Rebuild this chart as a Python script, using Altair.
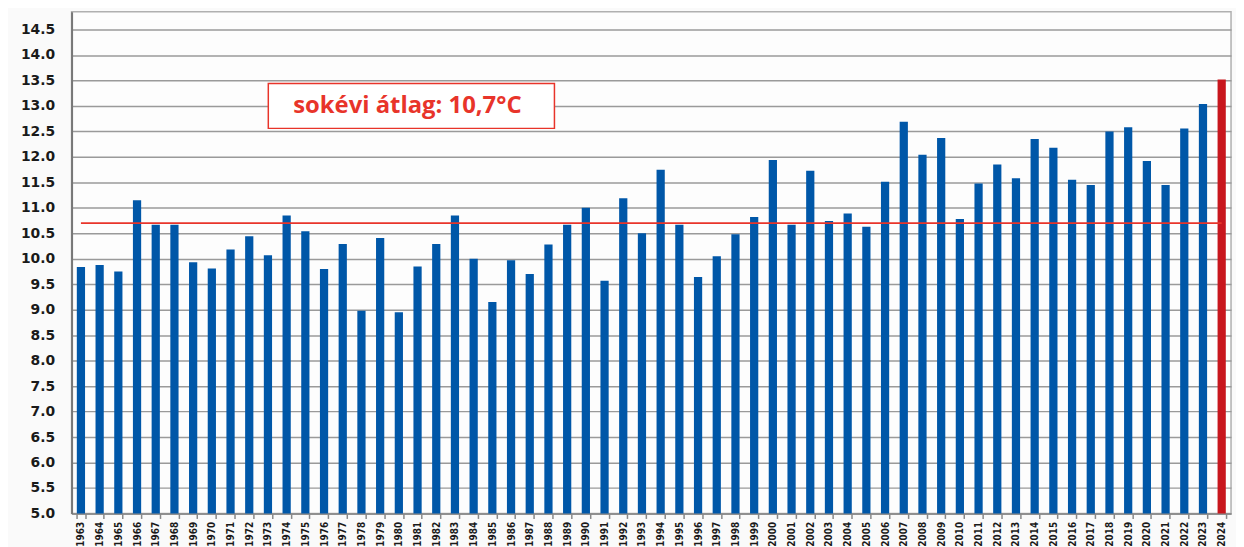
import altair as alt
import pandas as pd

years = list(range(1963, 2025))
temps = [9.84, 9.88, 9.75, 11.15, 10.67, 10.67, 9.93, 9.81, 10.18, 10.44,
         10.07, 10.85, 10.54, 9.80, 10.29, 8.98, 10.41, 8.95, 9.85, 10.29,
         10.85, 10.00, 9.15, 9.97, 9.70, 10.28, 10.67, 11.00, 9.57, 11.19,
         10.50, 11.75, 10.67, 9.64, 10.05, 10.48, 10.82, 11.94, 10.67, 11.73,
         10.74, 10.89, 10.63, 11.51, 12.69, 12.04, 12.37, 10.78, 11.48, 11.85,
         11.58, 12.35, 12.18, 11.55, 11.45, 12.50, 12.58, 11.92, 11.45, 12.56,
         13.04, 13.52]
highlight_year = 2024
avg_value = 10.7
avg_label = "sokévi átlag: 10,7°C"
y_ticks = [5.0 + 0.5 * i for i in range(20)]
y_base = 5.0

df = pd.DataFrame({"year": years, "temp": temps})
avg_df = pd.DataFrame({"year": [years[0], years[-1]], "temp": [avg_value, avg_value]})

xscale = alt.Scale(paddingInner=0.56, paddingOuter=0.28)
yscale = alt.Scale(domain=[5, 14.85], nice=False, zero=False)

x_axis = alt.Axis(labelAngle=270, labelFont="DejaVu Sans Condensed",
                  labelFontWeight="bold", labelFontSize=10,
                  labelColor="#1a1a1a", labelPadding=3, labelOverlap=False,
                  tickBand="extent", tickSize=5, tickColor="#888888",
                  tickWidth=1.5, domainColor="#888888", domainWidth=1.5,
                  grid=False)
y_axis = alt.Axis(values=y_ticks, format=".1f", labelFont="DejaVu Sans",
                  labelFontWeight="bold", labelFontSize=14, labelOverlap=False,
                  labelColor="#1a1a1a", labelPadding=17, ticks=False,
                  domainColor="#777777", domainWidth=2,
                  gridColor="#9a9a9a", gridWidth=1.5)

x_enc = alt.X("year:O", scale=xscale, title=None, axis=x_axis)
y_enc = alt.Y("temp:Q", scale=yscale, title=None, axis=y_axis)

bars = alt.Chart(df).mark_bar().encode(
    x=x_enc,
    y=y_enc,
    y2=alt.Y2Datum(y_base),
    color=alt.condition(alt.datum.year == highlight_year,
                        alt.value("#c8161d"), alt.value("#0057a8")),
)

avg_line = alt.Chart(avg_df).mark_line(color="#e8342a", strokeWidth=2).encode(
    x=x_enc,
    y=y_enc,
)

box = alt.Chart(pd.DataFrame({"a": [0]})).mark_rect(
    fill="white", stroke="#e8342a", strokeWidth=1.5
).encode(
    x=alt.value(198), x2=alt.value(486),
    y=alt.YDatum(13.44, scale=yscale, axis=y_axis, title=None),
    y2=alt.Y2Datum(12.56),
)

label = alt.Chart(pd.DataFrame({"a": [0]})).mark_text(
    text=avg_label, font="Open Sans", fontWeight="bold", fontSize=24,
    color="#e8342a", align="center", baseline="middle"
).encode(
    x=alt.value(338),
    y=alt.YDatum(13.0, scale=yscale, axis=y_axis, title=None),
)

chart = alt.layer(bars, avg_line, box, label).properties(
    width=1167, height=505,
    autosize=alt.AutoSizeParams(type="none"),
    padding={"left": 64, "top": 2, "right": 5, "bottom": 32},
    background="#fafafa",
).configure_view(
    stroke="#b0b0b0", strokeWidth=1.5, fill="#fdfdfd"
)

chart.save("out.html", embed_options={"renderer": "svg", "actions": False})
